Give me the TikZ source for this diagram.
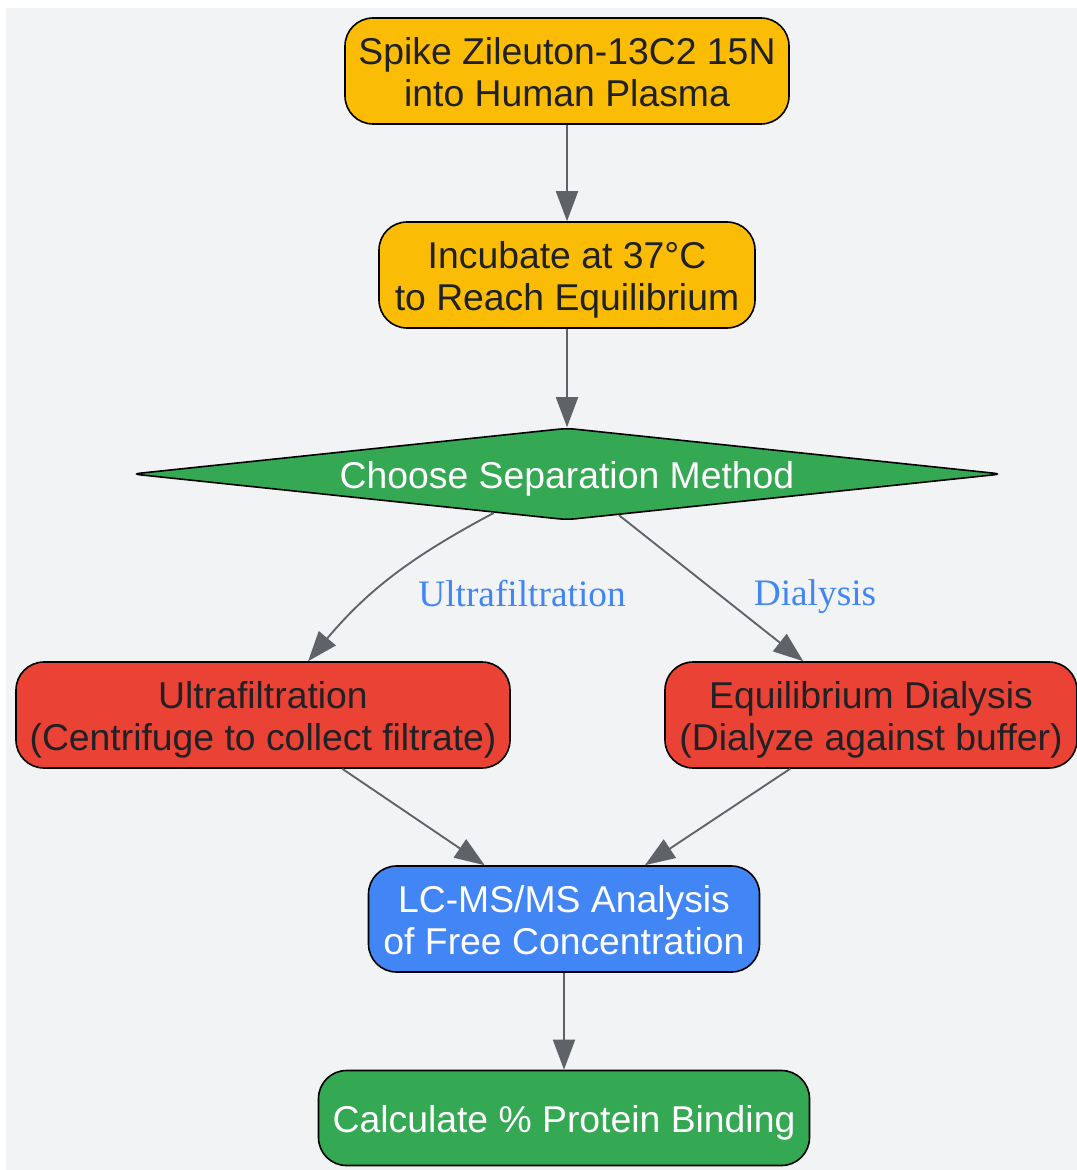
\documentclass[tikz,border=0pt]{standalone}
\usepackage{fontspec}
\setmainfont{Liberation Sans}
\newfontfamily\labelfont{Liberation Serif}
\usetikzlibrary{shapes.geometric,arrows.meta}
\definecolor{bgc}{HTML}{F1F3F4}
\definecolor{ylw}{HTML}{FBBC05}
\definecolor{grn}{HTML}{34A853}
\definecolor{rd}{HTML}{EA4335}
\definecolor{bl}{HTML}{4285F4}
\definecolor{dk}{HTML}{202124}
\definecolor{edgec}{HTML}{5F6368}
\begin{document}
\begin{tikzpicture}[x=0.75pt,y=-0.75pt,
  box/.style={draw=black,line width=1.2pt,rounded corners=21pt,align=center,
    inner sep=0pt,text height=60pt,text depth=7pt,font=\fontsize{28pt}{31.5pt}\selectfont,minimum height=79.5pt},
  onebox/.style={box,text height=27pt,text depth=5.9pt},
  decide/.style={draw=black,line width=1.2pt,diamond,aspect=9.46,rounded corners=6pt,
    inner sep=0pt,text height=27pt,minimum width=652.5pt,minimum height=69pt,align=center,
    font=\fontsize{28pt}{31.5pt}\selectfont},
  conn/.style={draw=edgec,line width=1.4pt,-{Triangle[length=22.5pt,width=16.5pt]}},
  elabel/.style={text=bl,font=\labelfont\fontsize{28pt}{31.5pt}\selectfont,inner sep=0pt}]
\useasboundingbox (0,0) rectangle (1077,1170);
\fill[bgc] (6,8) rectangle (1077,1170);

\node[box,fill=ylw,text=dk,minimum width=333pt] (spike) at (567,71) {Spike Zileuton-13C2 15N\\into Human Plasma};
\node[box,fill=ylw,text=dk,minimum width=282pt] (incub) at (567,275) {Incubate at 37°C\\to Reach Equilibrium};
\node[decide,fill=grn,text=white] (choose) at (567,474) {Choose Separation Method};
\node[box,fill=rd,text=dk,minimum width=370.5pt] (uf) at (263,715) {Ultrafiltration\\(Centrifuge to collect filtrate)};
\node[box,fill=rd,text=dk,minimum width=309pt] (ed) at (871,715) {Equilibrium Dialysis\\(Dialyze against buffer)};
\node[box,fill=bl,text=white,minimum width=293.25pt] (lc) at (564,919) {LC-MS/MS Analysis\\of Free Concentration};
\node[onebox,fill=grn,text=white,minimum width=368.25pt,minimum height=71.25pt] (calc) at (564,1118) {Calculate \% Protein Binding};

\node[elabel] (lab1) at (522,594) {Ultrafiltration};
\node[elabel] (lab2) at (815,597) {Dialysis};

\draw[conn] (spike) -- (incub);
\draw[conn] (incub) -- (choose);
\draw[conn] (choose) to[out=-152,in=50] (uf);
\draw[conn] (choose) -- (ed);
\draw[conn] (uf) -- (lc);
\draw[conn] (ed) -- (lc);
\draw[conn] (lc) -- (calc);
\end{tikzpicture}
\end{document}
